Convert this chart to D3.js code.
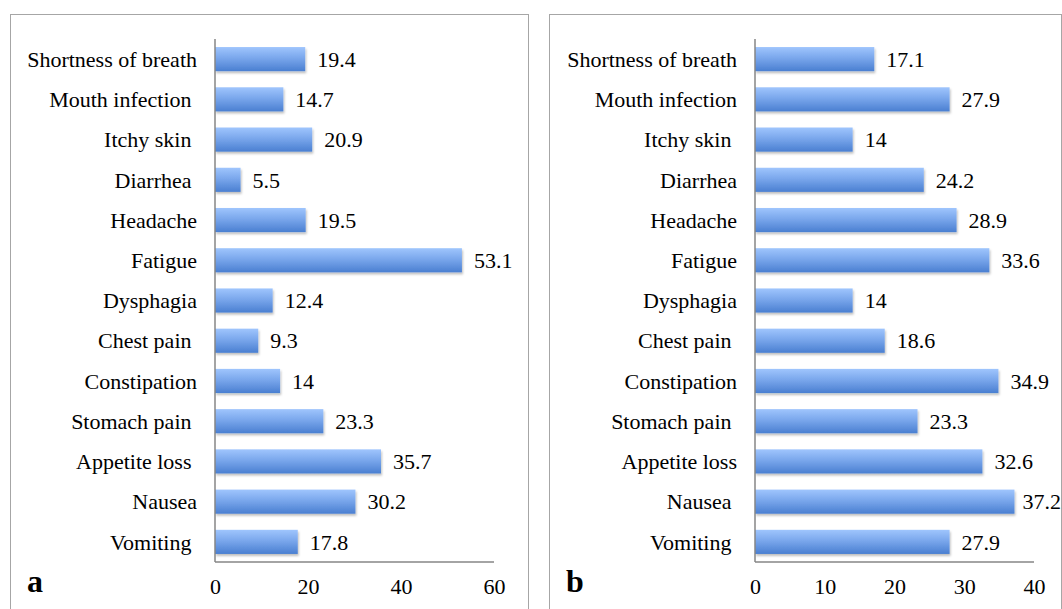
<!DOCTYPE html>
<html>
<head>
<meta charset="utf-8">
<script src="https://cdn.jsdelivr.net/npm/d3@7"></script>
<style>
  html, body { margin: 0; padding: 0; background: #fff; }
  svg { display: block; }
  text { font-family: "Liberation Serif", "Times New Roman", serif; fill: #000; white-space: pre; }
</style>
</head>
<body>
<svg id="chart" width="1062" height="609"></svg>
<script>
// symptom categories, top to bottom
const categories = ['Shortness of breath', 'Mouth infection', 'Itchy skin', 'Diarrhea', 'Headache',
  'Fatigue', 'Dysphagia', 'Chest pain', 'Constipation', 'Stomach pain', 'Appetite loss', 'Nausea', 'Vomiting'];

// labels as typed in the source (some carry a trailing space)
const labelsA = ['Shortness of breath', 'Mouth infection ', 'Itchy skin ', 'Diarrhea ', 'Headache',
  'Fatigue', 'Dysphagia', 'Chest pain ', 'Constipation', 'Stomach pain ', 'Appetite loss ', 'Nausea', 'Vomiting '];
const labelsB = ['Shortness of breath', 'Mouth infection', 'Itchy skin ', 'Diarrhea', 'Headache',
  'Fatigue', 'Dysphagia', 'Chest pain ', 'Constipation', 'Stomach pain ', 'Appetite loss', 'Nausea ', 'Vomiting '];

const valuesA = [19.4, 14.7, 20.9, 5.5, 19.5, 53.1, 12.4, 9.3, 14, 23.3, 35.7, 30.2, 17.8];
const valuesB = [17.1, 27.9, 14, 24.2, 28.9, 33.6, 14, 18.6, 34.9, 23.3, 32.6, 37.2, 27.9];

const ticksA = [0, 20, 40, 60];
const ticksB = [0, 10, 20, 30, 40];

const FONT = '"Liberation Serif", "Times New Roman", serif';
const FS = 22;

const svg = d3.select('#chart');
const defs = svg.append('defs');

const grad = defs.append('linearGradient')
  .attr('id', 'barGrad').attr('x1', 0).attr('y1', 0).attr('x2', 0).attr('y2', 1);
grad.append('stop').attr('offset', '0%').attr('stop-color', '#9fc5fd');
grad.append('stop').attr('offset', '45%').attr('stop-color', '#7aa7ec');
grad.append('stop').attr('offset', '100%').attr('stop-color', '#4a7fd1');

const shadow = defs.append('filter').attr('id', 'barShadow')
  .attr('x', '-5%').attr('y', '-20%').attr('width', '115%').attr('height', '160%');
shadow.append('feDropShadow')
  .attr('dx', 1).attr('dy', 2).attr('stdDeviation', 1.2)
  .attr('flood-color', '#000').attr('flood-opacity', 0.25);

// one bordered panel with its own bar chart
function drawPanel(opt) {
  const g = svg.append('g');

  g.append('rect')
    .attr('x', opt.box[0] + 0.5).attr('y', opt.box[1] + 0.5)
    .attr('width', opt.box[2]).attr('height', opt.box[3])
    .attr('fill', 'none').attr('stroke', '#a6a6a6').attr('stroke-width', 1);

  const x = d3.scaleLinear().domain(opt.domain).range([opt.x0, opt.x1]);
  const y = d3.scaleBand().domain(categories).range([39, 562])
    .paddingInner(0.4).paddingOuter(0.2);

  g.selectAll('rect.bar')
    .data(opt.values)
    .join('rect')
    .attr('class', 'bar')
    .attr('x', x(0))
    .attr('y', (d, i) => y(categories[i]))
    .attr('width', d => x(d) - x(0))
    .attr('height', y.bandwidth())
    .attr('fill', 'url(#barGrad)')
    .attr('filter', 'url(#barShadow)');

  // value labels; pulled back in when they would run past the panel edge
  const rightLimit = opt.box[0] + opt.box[2];
  g.selectAll('text.val')
    .data(opt.values)
    .join('text')
    .attr('class', 'val')
    .attr('y', (d, i) => y(categories[i]) + y.bandwidth() / 2)
    .attr('dy', '0.35em')
    .attr('font-size', FS)
    .text(d => d)
    .attr('x', function (d) {
      const w = this.getComputedTextLength();
      return Math.min(x(d) + 12, rightLimit - w);
    });

  // category labels
  g.selectAll('text.cat')
    .data(opt.labels)
    .join('text')
    .attr('class', 'cat')
    .attr('x', x(0) - 18)
    .attr('y', (d, i) => y(categories[i]) + y.bandwidth() / 2)
    .attr('dy', '0.35em')
    .attr('text-anchor', 'end')
    .attr('font-size', FS)
    .text(d => d);

  // axes lines
  g.append('line')
    .attr('x1', x(0)).attr('x2', x(0)).attr('y1', 39).attr('y2', 562)
    .attr('stroke', '#868686').attr('stroke-width', 1.5);
  g.append('line')
    .attr('x1', x(0)).attr('x2', opt.x1).attr('y1', 562).attr('y2', 562)
    .attr('stroke', '#868686').attr('stroke-width', 1.5);

  const axis = d3.axisBottom(x).tickValues(opt.ticks).tickSize(0).tickPadding(0);
  const ag = g.append('g').attr('transform', 'translate(0,578)').call(axis);
  ag.select('.domain').remove();
  ag.selectAll('text')
    .attr('font-size', FS)
    .attr('font-family', FONT)
    .attr('dy', '0.71em')
    .attr('fill', '#000');

  g.append('text')
    .attr('x', opt.box[0] + 17).attr('y', 592)
    .attr('font-size', 32).attr('font-weight', 'bold')
    .text(opt.tag);
}

drawPanel({ box: [10, 14, 518, 620], x0: 215, x1: 494, domain: [0, 60], ticks: ticksA,
  values: valuesA, labels: labelsA, tag: 'a' });
drawPanel({ box: [549, 14, 512, 620], x0: 755, x1: 1034, domain: [0, 40], ticks: ticksB,
  values: valuesB, labels: labelsB, tag: 'b' });
</script>
</body>
</html>
